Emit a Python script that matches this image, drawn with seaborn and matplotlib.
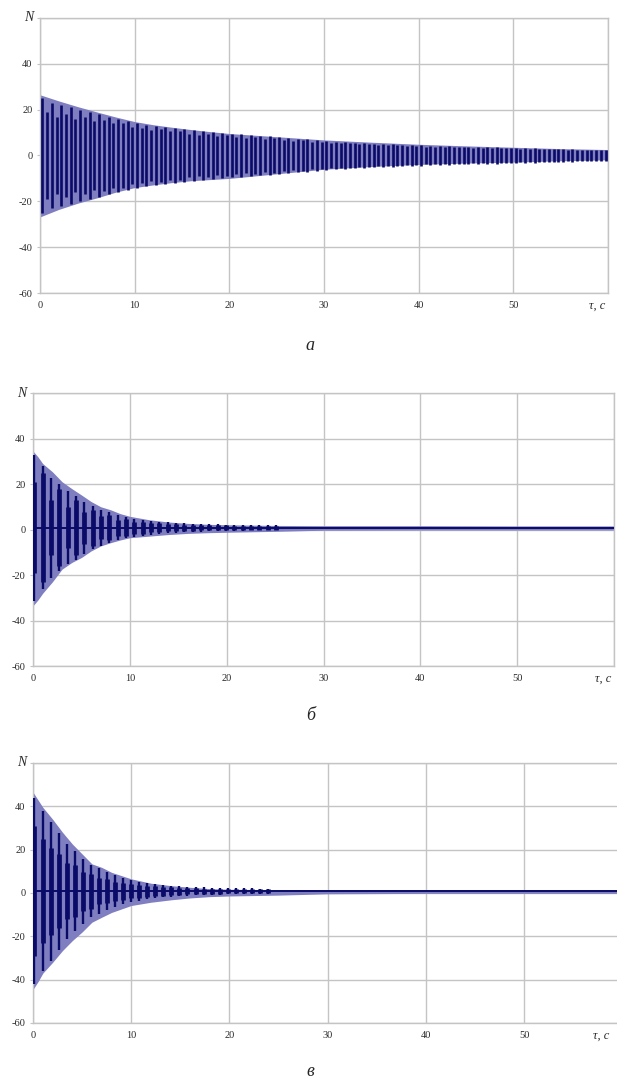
import numpy as np
import matplotlib
matplotlib.use("Agg")
import matplotlib.pyplot as plt
import seaborn as sns
import pandas as pd

# --- envelope of the light band ---
t_env_a = [0, 2, 4, 6, 8, 10, 12, 14, 16, 18, 20, 25, 30, 35, 40, 45, 50, 55, 60]
upper_a = [26.5, 23.8, 21.3, 19, 16.8, 14.8, 13.4, 12.3, 11.3, 10.4, 9.6, 8.2, 6.8, 5.8, 4.9, 4.2, 3.6, 3.0, 2.6]
lower_a = [-26.8, -23.5, -20.8, -18.5, -16, -14, -12.8, -11.8, -11, -10.5, -10, -8, -6, -4.8, -3.9, -3.3, -2.9, -2.3, -1.9]

t_env_bc = [0, 0.5, 1, 2, 3, 4, 5, 6, 7, 8, 9, 10, 12, 14, 16, 18, 20, 25, 30, 40, 50, 60]
upper_b = [34.5, 32, 29, 25.4, 21, 18, 15.2, 12.3, 10, 8.7, 7, 5.8, 4.3, 3.3, 2.7, 2.3, 2.1, 1.8, 1.7, 1.7, 1.6, 1.6]
lower_b = [-33.5, -31, -28, -23, -17.4, -14.5, -12.3, -9.4, -7.2, -5.8, -4.6, -3.6, -2.9, -2.2, -1.7, -1.4, -1.2, -0.8, -0.3, -0.2, -0.2, -0.2]
upper_c = [46.5, 43, 39.5, 34, 28, 22.6, 18, 13.4, 11.8, 9.5, 8, 6.5, 4.5, 3.4, 2.6, 2, 1.7, 1.5, 1.4, 1.4, 1.4, 1.4]
lower_c = [-44.5, -41, -37, -32, -26.6, -22, -18, -13.5, -11.2, -9, -7.4, -5.8, -4.3, -3.2, -2.3, -1.7, -1.4, -1, -0.4, -0.2, -0.2, -0.2]

# --- dark oscillation streaks: times and half heights ---
t_peaks_a = [0.25, 0.75, 1.25, 1.75, 2.25, 2.75, 3.25, 3.75, 4.25, 4.75,
             5.25, 5.75, 6.25, 6.75, 7.25, 7.75, 8.25, 8.75, 9.25, 9.75,
             10.25, 10.75, 11.25, 11.75, 12.25, 12.75, 13.25, 13.75, 14.25, 14.75,
             15.25, 15.75, 16.25, 16.75, 17.25, 17.75, 18.25, 18.75, 19.25, 19.75,
             20.25, 20.75, 21.25, 21.75, 22.25, 22.75, 23.25, 23.75, 24.25, 24.75,
             25.25, 25.75, 26.25, 26.75, 27.25, 27.75, 28.25, 28.75, 29.25, 29.75,
             30.25, 30.75, 31.25, 31.75, 32.25, 32.75, 33.25, 33.75, 34.25, 34.75,
             35.25, 35.75, 36.25, 36.75, 37.25, 37.75, 38.25, 38.75, 39.25, 39.75,
             40.25, 40.75, 41.25, 41.75, 42.25, 42.75, 43.25, 43.75, 44.25, 44.75,
             45.25, 45.75, 46.25, 46.75, 47.25, 47.75, 48.25, 48.75, 49.25, 49.75,
             50.25, 50.75, 51.25, 51.75, 52.25, 52.75, 53.25, 53.75, 54.25, 54.75,
             55.25, 55.75, 56.25, 56.75, 57.25, 57.75, 58.25, 58.75, 59.25, 59.75]
h_peaks_a = [25, 19, 23, 17, 22, 18, 21, 16, 20, 17,
             19, 15, 18, 15.5, 17, 14, 16, 14, 15, 12.5,
             14, 12, 13.5, 11, 13, 11.5, 12.5, 10.5, 12, 10.5,
             11.5, 9.5, 11, 9, 10.8, 9.5, 10.3, 8.5, 10, 9,
             9.5, 8, 9.2, 7.8, 9, 8, 8.7, 7.3, 8.3, 7.5,
             8, 6.8, 7.6, 6.5, 7.4, 6.6, 7, 6, 6.7, 6,
             6.4, 5.4, 6.1, 5.3, 5.9, 5.3, 5.6, 4.9, 5.4, 4.9,
             5.2, 4.6, 5, 4.4, 4.9, 4.5, 4.7, 4.2, 4.6, 4.3,
             4.4, 3.9, 4.3, 3.8, 4.2, 3.9, 4, 3.6, 3.9, 3.6,
             3.8, 3.4, 3.7, 3.3, 3.6, 3.3, 3.5, 3.1, 3.4, 3.1,
             3.3, 2.9, 3.2, 2.8, 3.1, 2.9, 3, 2.7, 2.9, 2.7,
             2.8, 2.5, 2.7, 2.4, 2.6, 2.4, 2.5, 2.3, 2.4, 2.2]

t_peaks_b = [0.15, 1.0, 1.86, 2.72, 3.58, 4.44, 5.3, 6.16, 7.02, 7.88,
             8.74, 9.6, 10.46, 11.32, 12.18, 13.04, 13.9, 14.76, 15.62, 16.48,
             17.34, 18.2, 19.06, 19.92, 20.78, 21.64, 22.5, 23.36, 24.22, 25.08]
thin_b = [32, 27, 22, 19, 16, 14, 11.5, 9.5, 8, 6.8,
          5.6, 4.6, 4, 3.5, 3, 2.7, 2.4, 2.2, 2, 1.8,
          1.7, 1.6, 1.5, 1.4, 1.3, 1.3, 1.2, 1.2, 1.1, 1.1]
thick_b = [20, 24, 12, 17, 9, 12, 7, 8, 5, 5.5,
           3.5, 3.8, 2.6, 2.7, 2, 2, 1.6, 1.6, 1.3, 1.3,
           1.1, 1.1, 1, 1, 0.9, 0.9, 0.8, 0.8, 0.8, 0.8]

t_peaks_c = [0.15, 0.97, 1.79, 2.61, 3.43, 4.25, 5.07, 5.89, 6.71, 7.53,
             8.35, 9.17, 9.99, 10.81, 11.63, 12.45, 13.27, 14.09, 14.91, 15.73,
             16.55, 17.37, 18.19, 19.01, 19.83, 20.65, 21.47, 22.29, 23.11, 23.93]
thin_c = [43, 37, 32, 27, 22, 18.5, 15, 12, 10.5, 8.8,
          7.3, 6, 5, 4.3, 3.8, 3.3, 2.9, 2.6, 2.3, 2.1,
          1.9, 1.8, 1.7, 1.6, 1.5, 1.4, 1.3, 1.3, 1.2, 1.2]
thick_c = [30, 24, 20, 17, 13, 12, 9, 8, 6, 5.5,
           4.3, 4, 3.2, 3, 2.5, 2.3, 2, 1.8, 1.6, 1.5,
           1.3, 1.2, 1.1, 1.1, 1, 1, 0.9, 0.9, 0.8, 0.8]

centers = [0.0, 0.8, 0.8]

x_ticks = [0, 10, 20, 30, 40, 50, 60]
x_labels = ["0", "10", "20", "30", "40", "50", ""]
y_ticks = [-60, -40, -20, 0, 20, 40, 60]
y_labels = ["-60", "-40", "-20", "0", "20", "40", ""]
captions = ["а", "б", "в"]

band_col = "#7e7ec0"
dark_col = "#0a0a68"
grid_col = "#c4c4c4"
text_col = "#2a2a2a"

sns.set_theme(style="white")
plt.rcParams["font.family"] = ["Liberation Serif", "DejaVu Serif"]

fig = plt.figure(figsize=(6.17, 10.84), dpi=100)
ax_a = fig.add_axes([0.0648, 0.7297, 0.9206, 0.2537])
ax_b = fig.add_axes([0.0535, 0.3856, 0.9417, 0.2518])
ax_c = fig.add_axes([0.0535, 0.0563, 0.955, 0.2399])

# panel a
ax_a.fill_between(t_env_a, lower_a, upper_a, color=band_col, lw=0, zorder=2)
ha = np.array(h_peaks_a)
ax_a.vlines(t_peaks_a, centers[0] - ha, centers[0] + ha, color=dark_col, lw=1.9, zorder=3)

# panels b, c
for ax, t_p, thin, thick, up, lo, c in [
        (ax_b, t_peaks_b, thin_b, thick_b, upper_b, lower_b, centers[1]),
        (ax_c, t_peaks_c, thin_c, thick_c, upper_c, lower_c, centers[2])]:
    ax.fill_between(t_env_bc, lo, up, color=band_col, lw=0, zorder=2)
    thin = np.array(thin)
    thick = np.array(thick)
    ax.vlines(t_p, c - thin, c + thin, color=dark_col, lw=1.7, zorder=3)
    ax.vlines(t_p, c - thick, c + thick, color=dark_col, lw=3.4, zorder=3)
    df = pd.DataFrame({"t": t_env_bc, "mid": [c] * len(t_env_bc)})
    sns.lineplot(data=df, x="t", y="mid", ax=ax, color=dark_col, lw=1.4, zorder=4)

for ax, cap in zip([ax_a, ax_b, ax_c], captions):
    ax.set_xlim(0, 60)
    ax.set_ylim(-60, 60)
    ax.set_xticks(x_ticks)
    ax.set_xticklabels(x_labels)
    ax.set_yticks(y_ticks)
    ax.set_yticklabels(y_labels)
    ax.grid(True, color=grid_col, lw=1.0, zorder=0)
    ax.set_axisbelow(True)
    for s in ax.spines.values():
        s.set_color(grid_col)
        s.set_linewidth(1.0)
    ax.tick_params(axis="both", labelsize=7.5, colors=text_col, length=2.5,
                   width=0.8, pad=3, left=True, bottom=False)
    ax.tick_params(axis="y", color=grid_col)
    ax.set_xlabel("")
    ax.set_ylabel("")
    ax.text(-0.012, 1.0, "N", transform=ax.transAxes, ha="right", va="center",
            fontsize=10, style="italic", color=text_col)
    tau_x = 0.978 if ax is ax_c else 0.995
    ax.text(tau_x, -0.026, "τ, с", transform=ax.transAxes, ha="right", va="top",
            fontsize=9, style="italic", color=text_col)

fig.text(0.503, 1 - 345 / 1084, captions[0], ha="center", va="center", fontsize=13, style="italic")
fig.text(0.503, 1 - 715 / 1084, captions[1], ha="center", va="center", fontsize=13, style="italic")
fig.text(0.503, 1 - 1072 / 1084, captions[2], ha="center", va="center", fontsize=13, style="italic")

fig.savefig("out.png", dpi=100)
